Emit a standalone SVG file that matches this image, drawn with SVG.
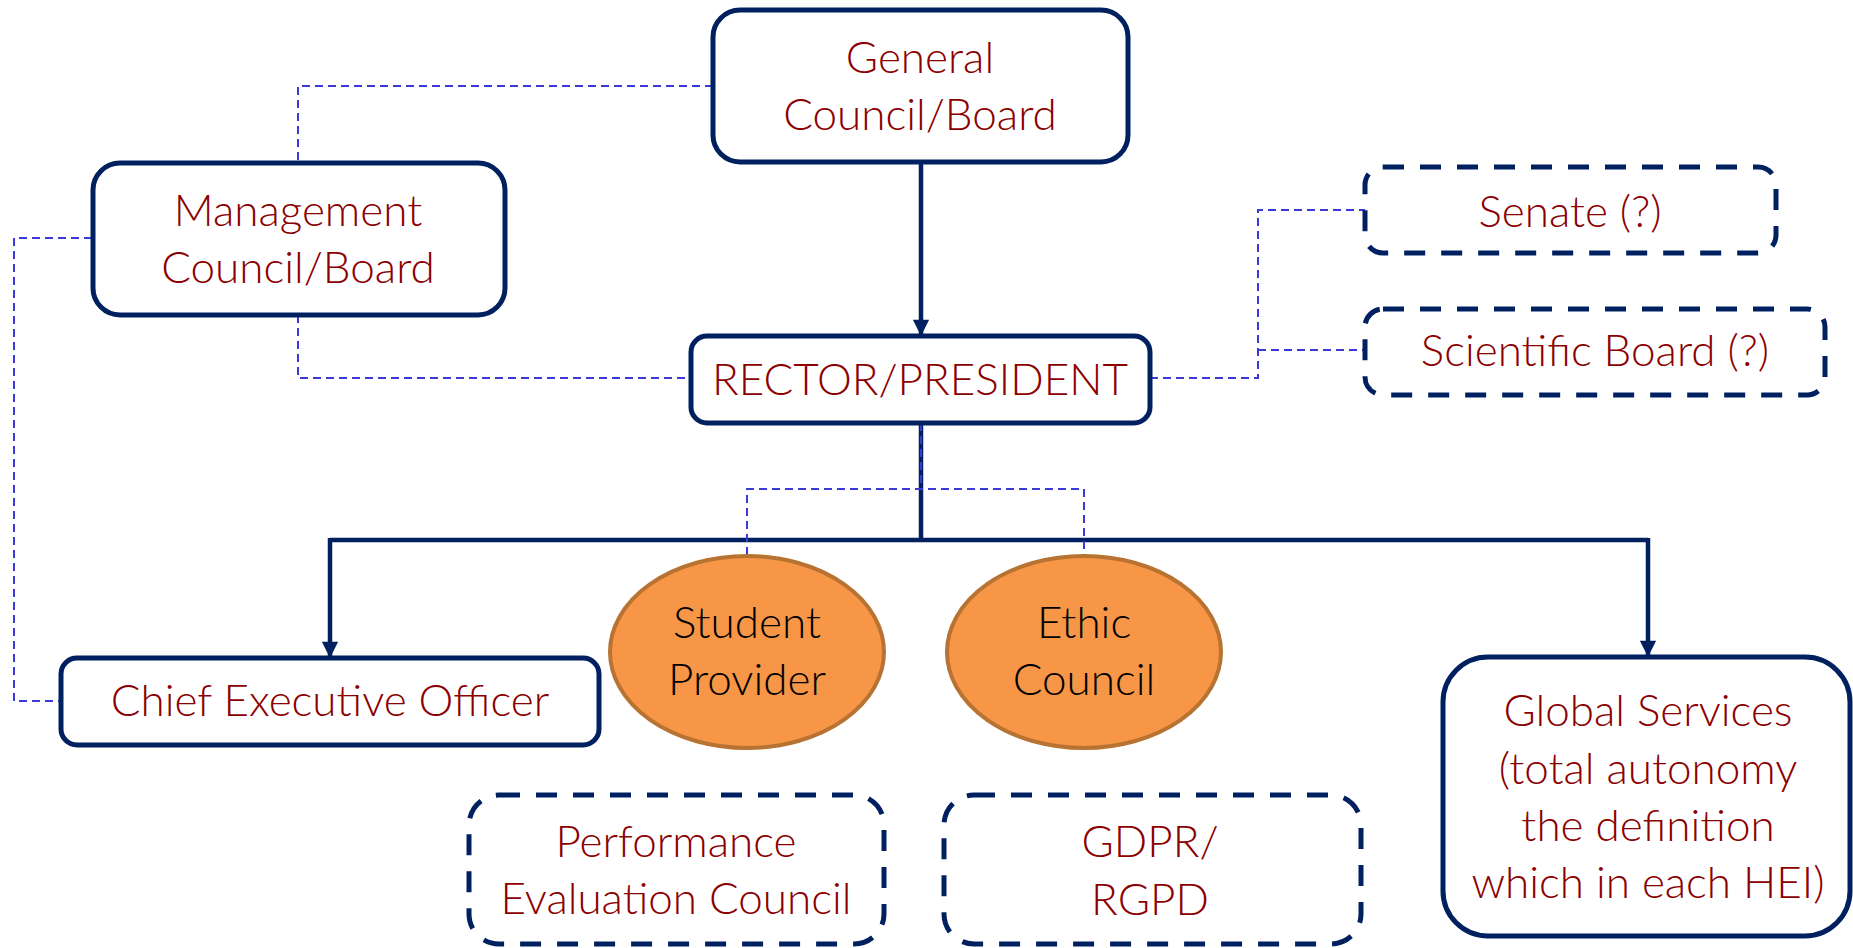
<svg xmlns="http://www.w3.org/2000/svg" width="1853" height="948" viewBox="0 0 1853 948">
<style>
.box{fill:#fff;stroke:#002060;stroke-width:5}
.dbox{fill:#fff;stroke:#002060;stroke-width:5;stroke-dasharray:21 16}
.ell{fill:#F79646;stroke:#B87333;stroke-width:4}
.t{font-family:Lato,"Open Sans","Liberation Sans",sans-serif;font-weight:300;font-size:44px;fill:#8B0000;text-anchor:middle}
.tb{fill:#000}
.solid{fill:none;stroke:#002060;stroke-width:4.5}
.dash{fill:none;stroke:#3A3AD8;stroke-width:2;stroke-dasharray:8 5}
</style>
<defs>
<marker id="arr" viewBox="0 0 10 10" refX="10" refY="5" markerWidth="3.8" markerHeight="3.6" markerUnits="strokeWidth" orient="auto">
<path d="M0,0 L10,5 L0,10 Z" fill="#002060"/>
</marker>
</defs>
<g id="connectors">
<path class="dash" d="M713,86 H298 V163"/>
<path class="dash" d="M298,315 V378 H691"/>
<path class="dash" d="M92,238 H14 V701 H61"/>
<path class="dash" d="M1150,378 H1258 V210 H1365"/>
<path class="dash" d="M1258,350 H1365"/>
<path class="solid" d="M921,162 V336" marker-end="url(#arr)"/>
<path class="solid" d="M921,423 V540"/>
<path class="solid" d="M330,540 H1648"/>
<path class="solid" d="M330,538 V658" marker-end="url(#arr)"/>
<path class="solid" d="M1648,538 V657" marker-end="url(#arr)"/>
<path class="dash" d="M921,423 V489"/>
<path class="dash" d="M747,555 V489 H1084 V555"/>
</g>
<g id="general">
<rect class="box" x="713" y="10" width="415" height="152" rx="27"/>
<text class="t" x="920" y="73">General</text>
<text class="t" x="920" y="130">Council/Board</text>
</g>
<g id="management">
<rect class="box" x="93" y="163" width="412" height="152" rx="27"/>
<text class="t" x="298" y="226">Management</text>
<text class="t" x="298" y="283">Council/Board</text>
</g>
<g id="rector">
<rect class="box" x="691" y="336" width="459" height="87" rx="16"/>
<text class="t" x="920" y="395">RECTOR/PRESIDENT</text>
</g>
<g id="senate">
<rect class="dbox" x="1365" y="167" width="411" height="86" rx="18"/>
<text class="t" x="1570" y="227">Senate (?)</text>
</g>
<g id="scientific">
<rect class="dbox" x="1365" y="309" width="460" height="86" rx="18"/>
<text class="t" x="1595" y="366">Scientific Board (?)</text>
</g>
<g id="ceo">
<rect class="box" x="61" y="658" width="538" height="87" rx="16"/>
<text class="t" x="330" y="716">Chief Executive Officer</text>
</g>
<g id="student">
<ellipse class="ell" cx="747" cy="652" rx="137" ry="96"/>
<text class="t tb" x="747" y="638">Student</text>
<text class="t tb" x="747" y="695">Provider</text>
</g>
<g id="ethic">
<ellipse class="ell" cx="1084" cy="652" rx="137" ry="96"/>
<text class="t tb" x="1084" y="638">Ethic</text>
<text class="t tb" x="1084" y="695">Council</text>
</g>
<g id="global">
<rect class="box" x="1443" y="657" width="407" height="279" rx="45"/>
<text class="t" x="1648" y="726">Global Services</text>
<text class="t" x="1648" y="784">(total autonomy</text>
<text class="t" x="1648" y="841">the definition</text>
<text class="t" x="1648" y="898">which in each HEI)</text>
</g>
<g id="performance">
<rect class="dbox" x="469" y="795" width="415" height="149" rx="30"/>
<text class="t" x="676" y="857">Performance</text>
<text class="t" x="676" y="914">Evaluation Council</text>
</g>
<g id="gdpr">
<rect class="dbox" x="944" y="795" width="417" height="149" rx="30"/>
<text class="t" x="1150" y="857">GDPR/</text>
<text class="t" x="1150" y="915">RGPD</text>
</g>
</svg>
